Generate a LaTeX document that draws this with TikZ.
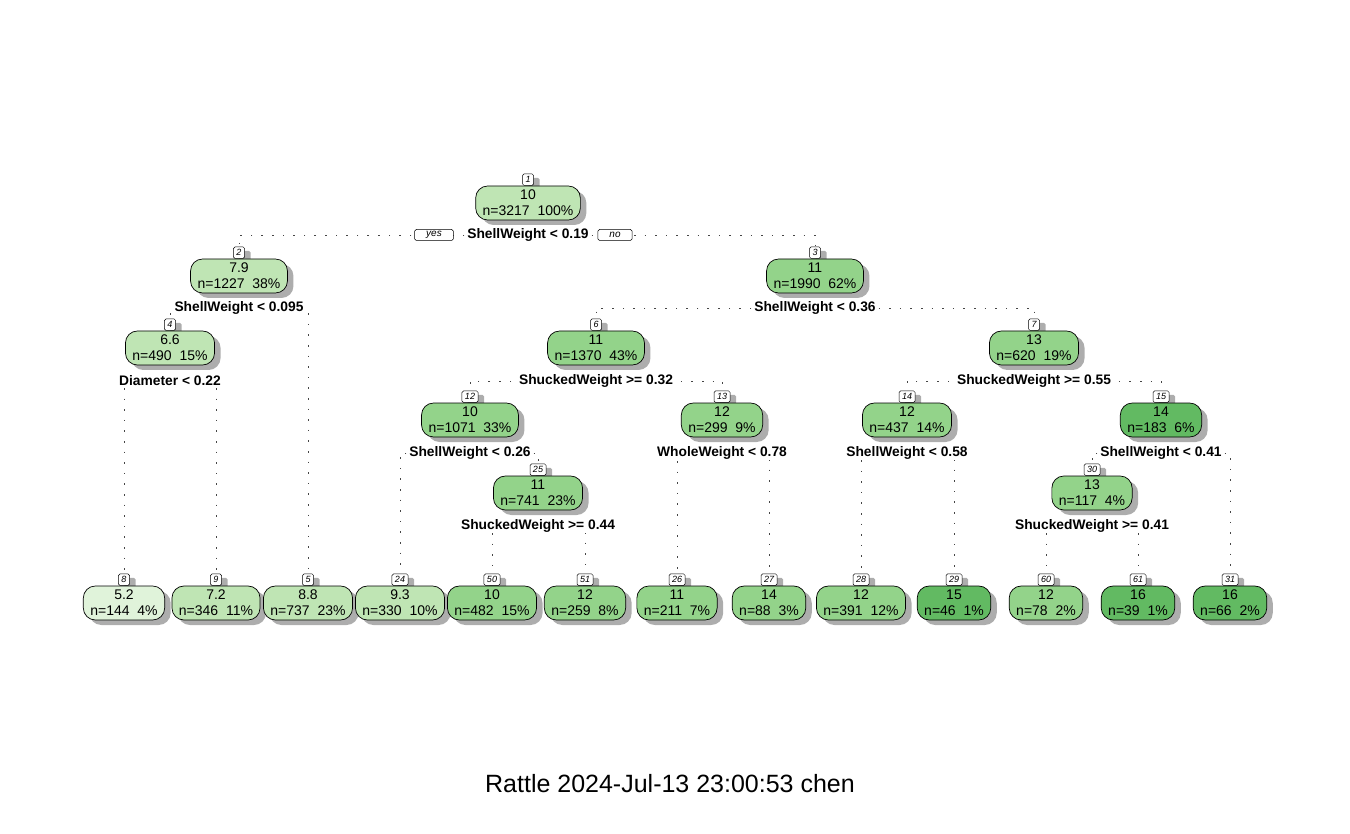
\documentclass[tikz,border=0pt]{standalone}
\usepackage{fontspec}
\setmainfont{Liberation Sans}
\usetikzlibrary{shadows,backgrounds}
\definecolor{leafpale}{HTML}{E0F3DA}
\definecolor{leaflight}{HTML}{BFE5B4}
\definecolor{leafmid}{HTML}{93D38A}
\definecolor{leafdark}{HTML}{62BA62}
\definecolor{branchgray}{HTML}{454545}
\begin{document}
\begin{tikzpicture}[x=1pt,y=-1pt]
\tikzstyle{every node}+=[inner sep=0pt, font=\fontsize{14}{16}\selectfont]
\tikzstyle{box}=[draw=black, line width=0.7pt, rounded corners=12pt, align=center, inner xsep=7pt, minimum height=34pt, drop shadow={shadow xshift=6pt, shadow yshift=-5pt, fill=black!32, opacity=1}]
\tikzstyle{tag}=[draw=black, fill=white, line width=0.5pt, rounded corners=1.5pt, font=\fontsize{9}{9}\itshape, inner xsep=3pt, minimum width=11pt, minimum height=11.5pt, anchor=south, drop shadow={shadow xshift=6pt, shadow yshift=-4pt, fill=black!32, opacity=1}]
\tikzstyle{split}=[fill=white, font=\fontsize{13.8}{16}\bfseries, inner xsep=2pt, inner ysep=1pt]
\tikzstyle{answer}=[draw=black, fill=white, line width=0.5pt, rounded corners=1.5pt, font=\fontsize{10}{10}\itshape, inner xsep=11.5pt, minimum height=11pt]
\tikzstyle{branch}=[draw=branchgray, line width=0.8pt, dash pattern=on 1.6pt off 9pt]
\useasboundingbox (0,0) rectangle (1350,834);
\node[box, fill=leaflight] (n1) at (528,203) {10\\n=3217\ \ 100\%};
\node[box, fill=leaflight] (n2) at (239,276) {7.9\\n=1227\ \ 38\%};
\node[box, fill=leafmid] (n3) at (815,276) {11\\n=1990\ \ 62\%};
\node[box, fill=leaflight] (n4) at (170,348) {6.6\\n=490\ \ 15\%};
\node[box, fill=leafmid] (n6) at (596,348) {11\\n=1370\ \ 43\%};
\node[box, fill=leafmid] (n7) at (1034,348) {13\\n=620\ \ 19\%};
\node[box, fill=leafmid] (n12) at (470,420) {10\\n=1071\ \ 33\%};
\node[box, fill=leafmid] (n13) at (722,420) {12\\n=299\ \ 9\%};
\node[box, fill=leafmid] (n14) at (907,420) {12\\n=437\ \ 14\%};
\node[box, fill=leafdark] (n15) at (1161,420) {14\\n=183\ \ 6\%};
\node[box, fill=leafmid] (n25) at (538,493) {11\\n=741\ \ 23\%};
\node[box, fill=leafmid] (n30) at (1092,493) {13\\n=117\ \ 4\%};
\node[box, fill=leafpale] (n8) at (124,603) {5.2\\n=144\ \ 4\%};
\node[box, fill=leaflight] (n9) at (216,603) {7.2\\n=346\ \ 11\%};
\node[box, fill=leaflight] (n5) at (308,603) {8.8\\n=737\ \ 23\%};
\node[box, fill=leaflight] (n24) at (400,603) {9.3\\n=330\ \ 10\%};
\node[box, fill=leafmid] (n50) at (492,603) {10\\n=482\ \ 15\%};
\node[box, fill=leafmid] (n51) at (585,603) {12\\n=259\ \ 8\%};
\node[box, fill=leafmid] (n26) at (677,603) {11\\n=211\ \ 7\%};
\node[box, fill=leafmid] (n27) at (769,603) {14\\n=88\ \ 3\%};
\node[box, fill=leafmid] (n28) at (861,603) {12\\n=391\ \ 12\%};
\node[box, fill=leafdark] (n29) at (954,603) {15\\n=46\ \ 1\%};
\node[box, fill=leafmid] (n60) at (1046,603) {12\\n=78\ \ 2\%};
\node[box, fill=leafdark] (n61) at (1138,603) {16\\n=39\ \ 1\%};
\node[box, fill=leafdark] (n31) at (1230,603) {16\\n=66\ \ 2\%};
\node[split] (s1) at (528,235) {ShellWeight < 0.19};
\node[split] (s2) at (239,308) {ShellWeight < 0.095};
\node[split] (s3) at (815,308) {ShellWeight < 0.36};
\node[split] (s4) at (170,381) {Diameter < 0.22};
\node[split] (s6) at (596,381) {ShuckedWeight >= 0.32};
\node[split] (s7) at (1034,381) {ShuckedWeight >= 0.55};
\node[split] (s12) at (470,453) {ShellWeight < 0.26};
\node[split] (s13) at (722,453) {WholeWeight < 0.78};
\node[split] (s14) at (907,453) {ShellWeight < 0.58};
\node[split] (s15) at (1161,453) {ShellWeight < 0.41};
\node[split] (s25) at (538,526) {ShuckedWeight >= 0.44};
\node[split] (s30) at (1092,526) {ShuckedWeight >= 0.41};
\node[answer] (yes) at (434,235) {yes};
\node[answer] (no) at (615,235) {no};
\node[font=\fontsize{25}{30}\selectfont] (title) at (670,784) {Rattle 2024-Jul-13 23:00:53 chen};
\begin{scope}[on background layer]
\node[tag] (t1) at (n1.north) {1};
\node[tag] (t2) at (n2.north) {2};
\node[tag] (t3) at (n3.north) {3};
\node[tag] (t4) at (n4.north) {4};
\node[tag] (t6) at (n6.north) {6};
\node[tag] (t7) at (n7.north) {7};
\node[tag] (t12) at (n12.north) {12};
\node[tag] (t13) at (n13.north) {13};
\node[tag] (t14) at (n14.north) {14};
\node[tag] (t15) at (n15.north) {15};
\node[tag] (t25) at (n25.north) {25};
\node[tag] (t30) at (n30.north) {30};
\node[tag] (t8) at (n8.north) {8};
\node[tag] (t9) at (n9.north) {9};
\node[tag] (t5) at (n5.north) {5};
\node[tag] (t24) at (n24.north) {24};
\node[tag] (t50) at (n50.north) {50};
\node[tag] (t51) at (n51.north) {51};
\node[tag] (t26) at (n26.north) {26};
\node[tag] (t27) at (n27.north) {27};
\node[tag] (t28) at (n28.north) {28};
\node[tag] (t29) at (n29.north) {29};
\node[tag] (t60) at (n60.north) {60};
\node[tag] (t61) at (n61.north) {61};
\node[tag] (t31) at (n31.north) {31};
\draw[branch] (s1.center) -| (t2.north);
\draw[branch] (s1.center) -| (t3.north);
\draw[branch] (s2.center) -| (t4.north);
\draw[branch] (s2.center) -| (t5.north);
\draw[branch] (s3.center) -| (t6.north);
\draw[branch] (s3.center) -| (t7.north);
\draw[branch] (s4.center) -| (t8.north);
\draw[branch] (s4.center) -| (t9.north);
\draw[branch] (s6.center) -| (t12.north);
\draw[branch] (s6.center) -| (t13.north);
\draw[branch] (s7.center) -| (t14.north);
\draw[branch] (s7.center) -| (t15.north);
\draw[branch] (s12.center) -| (t24.north);
\draw[branch] (s12.center) -| (t25.north);
\draw[branch] (s13.center) -| (t26.north);
\draw[branch] (s13.center) -| (t27.north);
\draw[branch] (s14.center) -| (t28.north);
\draw[branch] (s14.center) -| (t29.north);
\draw[branch] (s15.center) -| (t30.north);
\draw[branch] (s15.center) -| (t31.north);
\draw[branch] (s25.center) -| (t50.north);
\draw[branch] (s25.center) -| (t51.north);
\draw[branch] (s30.center) -| (t60.north);
\draw[branch] (s30.center) -| (t61.north);
\end{scope}
\end{tikzpicture}
\end{document}
